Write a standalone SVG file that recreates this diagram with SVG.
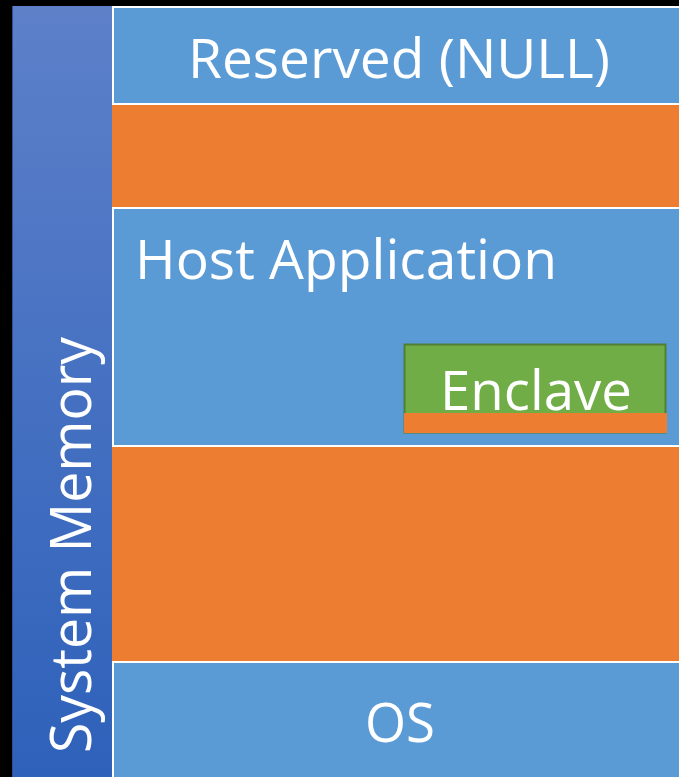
<svg xmlns="http://www.w3.org/2000/svg" width="679" height="777" viewBox="0 0 679 777">
  <defs>
    <linearGradient id="barFill" x1="0" y1="0" x2="0" y2="1">
      <stop offset="0" stop-color="#5D80C9"/>
      <stop offset="1" stop-color="#2E61BA"/>
    </linearGradient>
  </defs>
  <style>
    .blue { fill: #5B9BD5; stroke: #FFFFFF; stroke-width: 2; }
    .orange { fill: #ED7D31; }
    .label { font-family: "Open Sans", "Noto Sans", sans-serif; fill: #FFFFFF; }
  </style>

  <rect width="679" height="777" fill="#000000"/>

  <!-- vertical memory bar -->
  <g id="system-memory">
    <rect x="12" y="6" width="100" height="775" fill="url(#barFill)"/>
    <line x1="12.5" y1="6" x2="12.5" y2="777" stroke="#2F528F" stroke-width="1"/>
    <text class="label" transform="translate(91,753) rotate(-90)" font-size="56" textLength="416" lengthAdjust="spacingAndGlyphs">System Memory</text>
  </g>

  <!-- memory regions -->
  <g id="reserved">
    <rect class="blue" x="113" y="7" width="580" height="97"/>
    <text class="label" x="399" y="78" font-size="54" text-anchor="middle" textLength="422" lengthAdjust="spacingAndGlyphs">Reserved (NULL)</text>
  </g>

  <g id="gap-upper">
    <rect class="orange" x="112" y="105" width="580" height="102"/>
  </g>

  <g id="host-application">
    <rect class="blue" x="113" y="208" width="580" height="238"/>
    <text class="label" x="135" y="279" font-size="54" textLength="422" lengthAdjust="spacingAndGlyphs">Host Application</text>
  </g>

  <g id="enclave">
    <rect x="404.5" y="344.5" width="261" height="88" fill="#70AD47" stroke="#507E32" stroke-width="2"/>
    <rect class="orange" x="404" y="413" width="263" height="20"/>
    <text class="label" x="536" y="410" font-size="54" text-anchor="middle" textLength="192" lengthAdjust="spacingAndGlyphs">Enclave</text>
  </g>

  <g id="gap-lower">
    <rect class="orange" x="112" y="447" width="580" height="214"/>
  </g>

  <g id="os">
    <rect class="blue" x="113" y="662" width="580" height="130"/>
    <text class="label" x="400" y="742" font-size="54" text-anchor="middle" textLength="70" lengthAdjust="spacingAndGlyphs">OS</text>
  </g>

  <g id="connectors"></g>
</svg>
